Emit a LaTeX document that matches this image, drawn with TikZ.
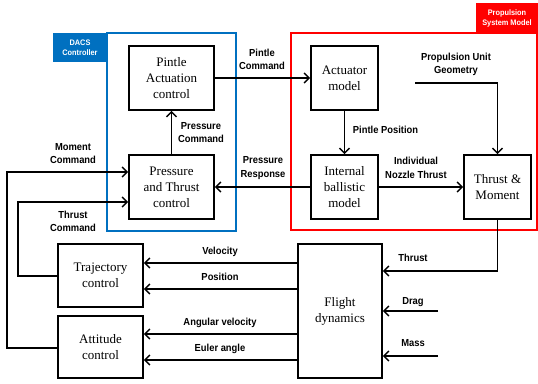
\documentclass[tikz,border=0pt]{standalone}
\usepackage{fontspec}
\setmainfont{Liberation Serif}
\newfontfamily\labfont[FakeStretch=0.92]{Liberation Sans}
\usetikzlibrary{arrows.meta,calc}
\definecolor{dacsblue}{RGB}{0,112,192}
\definecolor{propred}{RGB}{255,0,0}
\tikzset{
  blk/.style={draw=black, line width=1.6pt, fill=white, align=center, inner sep=0pt,
    font=\fontsize{13}{16}\selectfont},
  lab/.style={align=center, inner sep=0pt, font=\labfont\bfseries\fontsize{10.2}{13.5}\selectfont},
  tag/.style={align=center, inner sep=0pt, text=white, font=\labfont\bfseries\fontsize{8}{10}\selectfont},
  conn/.style={line width=1.6pt, -{Straight Barb[length=5pt,width=10pt,line width=1.5pt]}},
  wire/.style={line width=1.6pt},
}
\begin{document}
\begin{tikzpicture}[x=1pt,y=-1pt]
\useasboundingbox (0,0) rectangle (538,383);
% containers
\draw[dacsblue, line width=1.4pt] (107,33) rectangle (236,231);
\fill[dacsblue] (53,33) rectangle (107,62);
\node[tag] (dacs) at (80,47.5) {DACS\\Controller};
\draw[propred, line width=1.6pt] (291,33) rectangle (537,230);
\fill[propred] (476,3) rectangle (538,33);
\node[tag] (psm) at (507,18) {Propulsion\\System Model};
% blocks
\node[blk, minimum width=85pt, minimum height=64pt] (pac) at (171.5,78) {Pintle\\Actuation\\control};
\node[blk, minimum width=85pt, minimum height=64pt] (ptc) at (171.5,187) {Pressure\\and Thrust\\control};
\node[blk, minimum width=67pt, minimum height=64pt] (act) at (344.5,78) {Actuator\\model};
\node[blk, minimum width=67pt, minimum height=64pt] (ib) at (344.5,187) {Internal\\ballistic\\model};
\node[blk, minimum width=67pt, minimum height=64pt] (tm) at (497.5,187) {Thrust \&\\Moment};
\node[blk, minimum width=85pt, minimum height=63pt] (traj) at (100.5,275.5) {Trajectory\\control};
\node[blk, minimum width=85pt, minimum height=62pt] (att) at (100.5,347) {Attitude\\control};
\node[blk, minimum width=84pt, minimum height=134pt] (fd) at (340,311) {Flight\\dynamics};
% free ends
\coordinate (geo) at (415,83);
\coordinate (dragin) at (438,311);
\coordinate (massin) at (438,356);
% connectors
\draw[conn] (pac) -- (act);
\draw[conn] (ptc) -- (pac);
\draw[conn] (ib) -- (ptc);
\draw[conn] (act) -- (ib);
\draw[conn] (ib) -- (tm);
\draw[conn] (geo) -| (tm);
\draw[conn] (tm.south) |- (fd.east |- 0,271);
\draw[conn] (dragin) -- (fd.east |- dragin);
\draw[conn] (massin) -- (fd.east |- massin);
\draw[conn] (fd.west |- 0,263) -- (traj.east |- 0,263);
\draw[conn] (fd.west |- 0,289) -- (traj.east |- 0,289);
\draw[conn] (fd.west |- 0,334) -- (att.east |- 0,334);
\draw[conn] (fd.west |- 0,360) -- (att.east |- 0,360);
\draw[conn] (att.west |- 0,348) -- (7,348) |- (ptc.west |- 0,172);
\draw[conn] (traj.west |- 0,276) -- (18,276) |- (ptc.west |- 0,202);
% labels
\node[lab] (lpc) at (262,59.5) {Pintle\\Command};
\node[lab] (lprc) at (201,132.5) {Pressure\\Command};
\node[lab] (lmc) at (73,153.5) {Moment\\Command};
\node[lab] (ltc) at (73,221.5) {Thrust\\Command};
\node[lab] (lpr) at (263,168) {Pressure\\Response};
\node[lab] (lpp) at (385.5,130) {Pintle Position};
\node[lab] (lint) at (416,168) {Individual\\Nozzle Thrust};
\node[lab] (lgeo) at (456,64.5) {Propulsion Unit\\Geometry};
\node[lab] (lthr) at (413,258) {Thrust};
\node[lab] (ldrag) at (413,302) {Drag};
\node[lab] (lmass) at (413,343) {Mass};
\node[lab] (lvel) at (220,252) {Velocity};
\node[lab] (lpos) at (220,277) {Position};
\node[lab] (lang) at (220,323) {Angular velocity};
\node[lab] (leul) at (220,349) {Euler angle};
\end{tikzpicture}
\end{document}
